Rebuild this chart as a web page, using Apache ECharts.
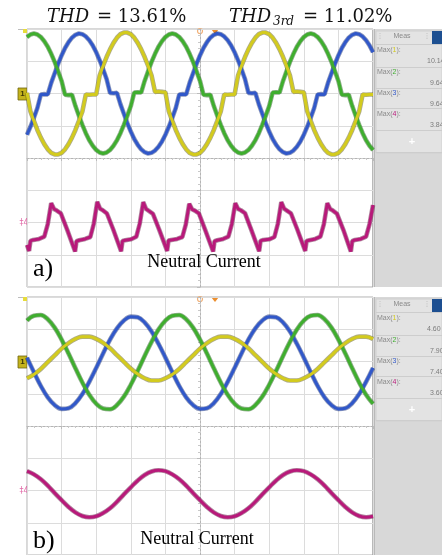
<!DOCTYPE html>
<html>
<head>
<meta charset="utf-8">
<script src="https://cdn.jsdelivr.net/npm/echarts@6.0.0/dist/echarts.min.js"></script>
<style>
  html, body { margin: 0; padding: 0; background: #fff; }
  #main { width: 442px; height: 555px; }
</style>
</head>
<body>
<div id="main"></div>
<script>
// time axis in scope divisions (0..10), amplitude in divisions (-4..4)
var stepA = 0.1;
var stepB = 0.2;

// a) distorted phase currents, one sample every 0.1 div
var yellowA = [
  2.02, 1.44, 1.15, 0.87, 0.63, 0.43, 0.27, 0.16, 0.11, 0.11,
  0.16, 0.27, 0.43, 0.63, 0.87, 1.15, 1.44, 1.97, 1.96, 1.97,
  1.97, 2.56, 2.86, 3.13, 3.37, 3.57, 3.73, 3.84, 3.89, 3.89,
  3.84, 3.73, 3.57, 3.37, 3.13, 2.86, 2.56, 2.05, 2.06, 2.05,
  2.04, 1.44, 1.15, 0.87, 0.63, 0.43, 0.27, 0.16, 0.11, 0.11,
  0.16, 0.27, 0.43, 0.63, 0.87, 1.15, 1.44, 1.97, 1.96, 1.97,
  1.97, 2.56, 2.86, 3.13, 3.37, 3.57, 3.73, 3.84, 3.89, 3.89,
  3.84, 3.73, 3.57, 3.37, 3.13, 2.86, 2.56, 2.05, 2.06, 2.05,
  2.04, 1.44, 1.15, 0.87, 0.63, 0.43, 0.27, 0.16, 0.11, 0.11,
  0.16, 0.27, 0.43, 0.63, 0.87, 1.15, 1.44, 1.97, 1.96, 1.97,
  1.97
];
var greenA = [
  3.75, 3.83, 3.86, 3.83, 3.75, 3.62, 3.45, 3.23, 2.98, 2.69,
  2.39, 1.96, 1.95, 1.96, 1.61, 1.31, 1.03, 0.77, 0.55, 0.38,
  0.25, 0.17, 0.14, 0.17, 0.25, 0.38, 0.55, 0.77, 1.03, 1.31,
  1.61, 2.03, 2.04, 2.03, 2.39, 2.69, 2.98, 3.23, 3.45, 3.62,
  3.75, 3.83, 3.86, 3.83, 3.75, 3.62, 3.45, 3.23, 2.98, 2.69,
  2.39, 1.96, 1.95, 1.96, 1.61, 1.31, 1.03, 0.77, 0.55, 0.38,
  0.25, 0.17, 0.14, 0.17, 0.25, 0.38, 0.55, 0.77, 1.03, 1.31,
  1.61, 2.03, 2.04, 2.03, 2.39, 2.69, 2.98, 3.23, 3.45, 3.62,
  3.75, 3.83, 3.86, 3.83, 3.75, 3.62, 3.45, 3.23, 2.98, 2.69,
  2.39, 1.96, 1.95, 1.96, 1.61, 1.31, 1.03, 0.77, 0.55, 0.38,
  0.25
];
var blueA = [
  0.72, 0.97, 1.25, 1.55, 1.97, 1.98, 1.97, 2.33, 2.63, 2.92,
  3.18, 3.41, 3.59, 3.73, 3.82, 3.86, 3.84, 3.77, 3.65, 3.49,
  3.28, 3.03, 2.75, 2.45, 2.02, 2.01, 2.02, 1.67, 1.37, 1.08,
  0.82, 0.59, 0.41, 0.27, 0.18, 0.14, 0.16, 0.23, 0.35, 0.51,
  0.72, 0.97, 1.25, 1.55, 1.97, 1.98, 1.97, 2.33, 2.63, 2.92,
  3.18, 3.41, 3.59, 3.73, 3.82, 3.86, 3.84, 3.77, 3.65, 3.49,
  3.28, 3.03, 2.75, 2.45, 2.02, 2.01, 2.02, 1.67, 1.37, 1.08,
  0.82, 0.59, 0.41, 0.27, 0.18, 0.14, 0.16, 0.23, 0.35, 0.51,
  0.72, 0.97, 1.25, 1.55, 1.97, 1.98, 1.97, 2.33, 2.63, 2.92,
  3.18, 3.41, 3.59, 3.73, 3.82, 3.86, 3.84, 3.77, 3.65, 3.49,
  3.28
];

// a) neutral current, breakpoints
var neutralATime = [
  0.00,
  0.06, 0.10, 0.18, 0.35, 0.50, 0.60, 0.70, 0.78, 0.86, 0.98, 1.16,
  1.39, 1.43, 1.51, 1.68, 1.83, 1.93, 2.03, 2.11, 2.19, 2.31, 2.49,
  2.72, 2.76, 2.84, 3.01, 3.16, 3.26, 3.36, 3.44, 3.52, 3.64, 3.82,
  4.05, 4.09, 4.17, 4.34, 4.49, 4.59, 4.69, 4.77, 4.85, 4.97, 5.15,
  5.38, 5.42, 5.50, 5.67, 5.82, 5.92, 6.02, 6.10, 6.18, 6.30, 6.48,
  6.71, 6.75, 6.83, 7.00, 7.15, 7.25, 7.35, 7.43, 7.51, 7.63, 7.81,
  8.04, 8.08, 8.16, 8.33, 8.48, 8.58, 8.68, 8.76, 8.84, 8.96, 9.14,
  9.36, 9.40, 9.48, 9.65, 9.80, 9.90, 10.00
];
var neutralA = [
  -2.70,
  -2.88, -2.57, -2.54, -2.51, -2.44, -2.05, -1.40, -1.58, -1.63, -1.72, -2.22,
  -2.90, -2.58, -2.55, -2.51, -2.45, -2.04, -1.36, -1.57, -1.62, -1.72, -2.21,
  -2.89, -2.57, -2.55, -2.52, -2.44, -2.03, -1.37, -1.58, -1.64, -1.73, -2.22,
  -2.88, -2.56, -2.54, -2.51, -2.45, -2.06, -1.42, -1.59, -1.63, -1.72, -2.23,
  -2.90, -2.58, -2.55, -2.51, -2.44, -2.05, -1.40, -1.58, -1.62, -1.71, -2.22,
  -2.89, -2.57, -2.54, -2.52, -2.45, -2.04, -1.37, -1.57, -1.63, -1.72, -2.21,
  -2.88, -2.57, -2.55, -2.51, -2.44, -2.05, -1.40, -1.58, -1.63, -1.73, -2.22,
  -2.90, -2.58, -2.54, -2.51, -2.44, -2.05, -1.46
];

// b) compensated case, one sample every 0.2 div
var yellowB = [
  1.48, 1.60, 1.77, 1.98, 2.19, 2.40, 2.57, 2.70, 2.77, 2.77,
  2.70, 2.58, 2.41, 2.20, 1.99, 1.78, 1.61, 1.48, 1.41, 1.41,
  1.48, 1.60, 1.77, 1.98, 2.19, 2.40, 2.57, 2.70, 2.77, 2.77,
  2.70, 2.58, 2.41, 2.20, 1.99, 1.78, 1.61, 1.48, 1.41, 1.41,
  1.48, 1.60, 1.77, 1.98, 2.19, 2.40, 2.57, 2.70, 2.77, 2.77,
  2.70
];
var greenB = [
  3.27, 3.42, 3.44, 3.31, 3.05, 2.68, 2.25, 1.79, 1.35, 0.97,
  0.69, 0.54, 0.52, 0.65, 0.91, 1.28, 1.71, 2.17, 2.61, 2.99,
  3.27, 3.42, 3.44, 3.31, 3.05, 2.68, 2.25, 1.79, 1.35, 0.97,
  0.69, 0.54, 0.52, 0.65, 0.91, 1.28, 1.71, 2.17, 2.61, 2.99,
  3.27, 3.42, 3.44, 3.31, 3.05, 2.68, 2.25, 1.79, 1.35, 0.97,
  0.69
];
var blueB = [
  2.12, 1.67, 1.24, 0.89, 0.65, 0.53, 0.55, 0.71, 0.99, 1.37,
  1.80, 2.25, 2.68, 3.03, 3.27, 3.39, 3.37, 3.21, 2.93, 2.55,
  2.12, 1.67, 1.24, 0.89, 0.65, 0.53, 0.55, 0.71, 0.99, 1.37,
  1.80, 2.25, 2.68, 3.03, 3.27, 3.39, 3.37, 3.21, 2.93, 2.55,
  2.12, 1.67, 1.24, 0.89, 0.65, 0.53, 0.55, 0.71, 0.99, 1.37,
  1.80
];
var neutralB = [
  -1.40, -1.50, -1.65, -1.85, -2.08, -2.30, -2.51, -2.68, -2.79, -2.83,
  -2.80, -2.70, -2.55, -2.35, -2.12, -1.90, -1.69, -1.52, -1.41, -1.37,
  -1.40, -1.50, -1.65, -1.85, -2.08, -2.30, -2.51, -2.68, -2.79, -2.83,
  -2.80, -2.70, -2.55, -2.35, -2.12, -1.90, -1.69, -1.52, -1.41, -1.37,
  -1.40, -1.50, -1.65, -1.85, -2.08, -2.30, -2.51, -2.68, -2.79, -2.83,
  -2.80
];

// measurement readouts (right panel, cut by the image edge)
var measA = ['10.14', '9.64', '9.64', '3.84'];
var measB = ['4.60', '7.90', '7.40', '3.60'];

var chColors = ['#d3cb1e', '#3fae2e', '#3158c9', '#b8197a'];
var chEdges = ['#5e5a12', '#22601a', '#1b3277', '#64103f'];

// x axis runs -5..5 so the centre line sits on zero
function sampled(values, step) {
  return values.map(function (v, i) { return [i * step - 5, v]; });
}
function timed(times, values) {
  return times.map(function (t, i) { return [t - 5, values[i]]; });
}

function trace(idx, data, ch, smooth) {
  var base = {
    type: 'line', xAxisIndex: idx, yAxisIndex: idx, data: data,
    showSymbol: false, silent: true, smooth: smooth ? 0.4 : false
  };
  return [
    Object.assign({}, base, { z: 2, lineStyle: { color: chEdges[ch], width: 4.6, opacity: 0.5 } }),
    Object.assign({}, base, { z: 3, lineStyle: { color: chColors[ch], width: 3 } })
  ];
}

function scopeAxis(idx, lo, hi) {
  return {
    type: 'value', gridIndex: idx, min: lo, max: hi, interval: 1,
    axisLabel: { show: false },
    axisLine: { onZero: true, lineStyle: { color: '#b4b4b4', type: [2, 2] } },
    axisTick: { show: true, length: 3, lineStyle: { color: '#bcbcbc' } },
    minorTick: { show: true, splitNumber: 5, length: 2, lineStyle: { color: '#c8c8c8' } },
    splitLine: { show: true, lineStyle: { color: '#dcdcdc' } }
  };
}

function measPanel(top, vals) {
  var o = top - 29;
  var els = [
    { type: 'rect', shape: { x: 373, y: top, width: 69, height: 258 }, style: { fill: '#d8d8d8' } },
    { type: 'rect', shape: { x: 376, y: top + 2, width: 66, height: 122 }, style: { fill: '#e3e3e3', stroke: '#d0d0d0' } },
    { type: 'line', shape: { x1: 373.5, y1: top, x2: 373.5, y2: top + 258 }, style: { stroke: '#9a9a9a', lineWidth: 2 } },
    { type: 'rect', shape: { x: 432, y: top + 2, width: 10, height: 14 }, style: { fill: '#1d4f91' } },
    { type: 'text', x: 402, y: 36 + o, style: { text: 'Meas', font: '7px "Liberation Sans"', fill: '#8a8a8a', align: 'center', verticalAlign: 'middle' } },
    { type: 'text', x: 380, y: 36 + o, style: { text: '⋮', font: '7px "DejaVu Sans"', fill: '#b0b0b0', align: 'center', verticalAlign: 'middle' } },
    { type: 'text', x: 427, y: 36 + o, style: { text: '⋮', font: '7px "DejaVu Sans"', fill: '#b0b0b0', align: 'center', verticalAlign: 'middle' } },
    { type: 'text', x: 412, y: 142 + o, style: { text: '+', font: 'bold 11px "Liberation Sans"', fill: '#ffffff', align: 'center', verticalAlign: 'middle' } }
  ];
  var rowY = [50, 72, 93, 114];
  var valX = [427, 430, 430, 430];
  var sepY = [44, 67, 88, 108, 130, 152];
  sepY.forEach(function (y) {
    els.push({ type: 'line', shape: { x1: 376, y1: y + o + 0.5, x2: 442, y2: y + o + 0.5 }, style: { stroke: '#cdcdcd', lineWidth: 1 } });
  });
  rowY.forEach(function (y, i) {
    els.push({
      type: 'text', x: 377, y: y + o,
      style: {
        text: '{g|Max(}{c|' + (i + 1) + '}{g|):}',
        verticalAlign: 'middle',
        rich: {
          g: { font: '7px "Liberation Sans"', fill: '#8a8a8a' },
          c: { font: '7px "Liberation Sans"', fill: chColors[i] }
        }
      }
    });
    els.push({ type: 'text', x: valX[i], y: y + 11 + o, style: { text: vals[i] + ' A', font: '7px "Liberation Sans"', fill: '#7c7c7c', verticalAlign: 'middle' } });
  });
  return els;
}

function sideMarks(top) {
  var o = top - 29;
  return [
    { type: 'line', shape: { x1: 18, y1: top + 0.5, x2: 373, y2: top + 0.5 }, style: { stroke: '#bdbdbd', lineWidth: 1 } },
    { type: 'rect', shape: { x: 18, y: 88 + o, width: 9, height: 12 }, style: { fill: '#c4b31c', stroke: '#6f6510', lineWidth: 0.8 } },
    { type: 'text', x: 22.5, y: 94 + o, style: { text: '1', font: 'bold 8px "Liberation Sans"', fill: '#3d3808', align: 'center', verticalAlign: 'middle' } },
    { type: 'text', x: 24, y: 223 + o, style: { text: '‡4', font: '8px "DejaVu Sans"', fill: '#e26aa8', align: 'center', verticalAlign: 'middle' } },
    { type: 'circle', shape: { cx: 200, cy: top + 2, r: 2.5 }, style: { fill: 'none', stroke: '#f2b27a', lineWidth: 1.2 } },
    { type: 'polygon', shape: { points: [[211, top], [219, top], [215, top + 5]] }, style: { fill: '#ec8f2f' } },
    { type: 'rect', shape: { x: 23, y: top, width: 4, height: 4 }, style: { fill: '#e7dc3c' } }
  ];
}

var series = []
  .concat(trace(0, sampled(blueA, stepA), 2))
  .concat(trace(0, sampled(greenA, stepA), 1))
  .concat(trace(0, sampled(yellowA, stepA), 0))
  .concat(trace(0, timed(neutralATime, neutralA), 3))
  .concat(trace(1, sampled(blueB, stepB), 2, true))
  .concat(trace(1, sampled(greenB, stepB), 1, true))
  .concat(trace(1, sampled(yellowB, stepB), 0, true))
  .concat(trace(1, sampled(neutralB, stepB), 3, true));

var serif = '"Liberation Serif", "DejaVu Serif", serif';
var graphic = []
  .concat(measPanel(29, measA))
  .concat(measPanel(297, measB))
  .concat(sideMarks(29))
  .concat(sideMarks(297))
  .concat([
    { type: 'text', x: 47, y: 17, style: { text: 'THD', font: 'italic 18px "DejaVu Serif"', fill: '#111', verticalAlign: 'middle' } },
    { type: 'text', x: 97, y: 17, style: { text: '= 13.61%', font: '18px "DejaVu Serif"', fill: '#111', verticalAlign: 'middle' } },
    { type: 'text', x: 229, y: 17, style: { text: 'THD', font: 'italic 18px "DejaVu Serif"', fill: '#111', verticalAlign: 'middle' } },
    { type: 'text', x: 273, y: 22, style: { text: '3rd', font: 'italic 12px "DejaVu Serif"', fill: '#111', verticalAlign: 'middle' } },
    { type: 'text', x: 303, y: 17, style: { text: '= 11.02%', font: '18px "DejaVu Serif"', fill: '#111', verticalAlign: 'middle' } },
    { type: 'text', x: 33, y: 269, z: 10, style: { text: 'a)', font: '26px ' + serif, fill: '#000', verticalAlign: 'middle' } },
    { type: 'text', x: 204, y: 262, z: 10, style: { text: 'Neutral Current', font: '18px ' + serif, fill: '#000', align: 'center', verticalAlign: 'middle' } },
    { type: 'text', x: 33, y: 541, z: 10, style: { text: 'b)', font: '26px ' + serif, fill: '#000', verticalAlign: 'middle' } },
    { type: 'text', x: 197, y: 539, z: 10, style: { text: 'Neutral Current', font: '18px ' + serif, fill: '#000', align: 'center', verticalAlign: 'middle' } }
  ]);

var option = {
  backgroundColor: '#ffffff',
  animation: false,
  grid: [
    { left: 27, top: 29, width: 346, height: 258, show: true, backgroundColor: '#fff', borderColor: '#b0b0b0', borderWidth: 1 },
    { left: 27, top: 297, width: 346, height: 258, show: true, backgroundColor: '#fff', borderColor: '#b0b0b0', borderWidth: 1 }
  ],
  xAxis: [scopeAxis(0, -5, 5), scopeAxis(1, -5, 5)],
  yAxis: [scopeAxis(0, -4, 4), scopeAxis(1, -4, 4)],
  series: series,
  graphic: graphic
};

var chart = echarts.init(document.getElementById('main'));
chart.setOption(option);
</script>
</body>
</html>
